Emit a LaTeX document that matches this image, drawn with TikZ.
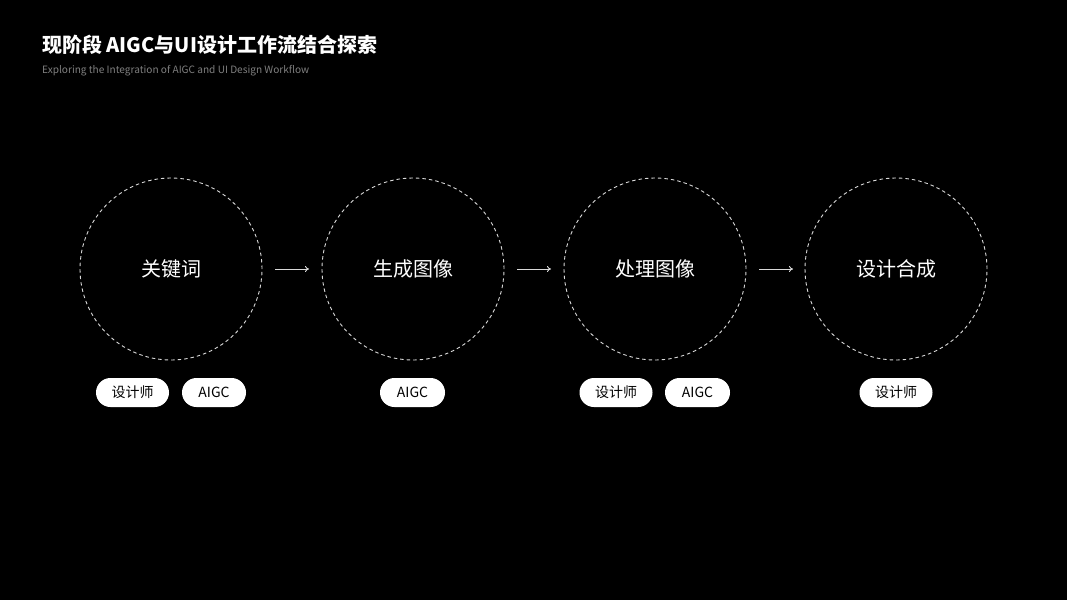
\documentclass[tikz,border=0pt]{standalone}
\usepackage{fontspec}
\setmainfont{Noto Sans CJK SC}
\usetikzlibrary{arrows.meta}
\begin{document}
\begin{tikzpicture}[x=1pt,y=-1pt,
  stage/.style={circle,draw=white!85!black,dash pattern=on 3.5pt off 3pt,line width=0.9pt,minimum size=182pt,inner sep=0pt,text=white,font=\fontsize{20}{24}\selectfont},
  pill/.style={rounded corners=14.5pt,fill=white,text=black,minimum height=29pt,inner sep=0pt,font=\fontsize{14}{16}\selectfont},
  flow/.style={draw=white!85!black,line width=0.9pt,-{To[length=4pt,width=6pt]}}]
\useasboundingbox[fill=black] (0,0) rectangle (1067,600);
\node[anchor=west,inner sep=0pt,text=white,font=\bfseries\fontsize{20}{24}\selectfont] (title) at (42,45) {现阶段 AIGC与UI设计工作流结合探索};
\node[anchor=west,inner sep=0pt,text=white!50!black,font=\fontsize{10.1}{12}\selectfont] (sub) at (42,71) {Exploring the Integration of AIGC and UI Design Workflow};
\node[stage] (s1) at (171,269) {关键词};
\node[stage] (s2) at (413,269) {生成图像};
\node[stage] (s3) at (655,269) {处理图像};
\node[stage] (s4) at (896,269) {设计合成};
\coordinate (a1s) at (275,269); \coordinate (a1e) at (309,269);
\coordinate (a2s) at (517,269); \coordinate (a2e) at (551,269);
\coordinate (a3s) at (759,269); \coordinate (a3e) at (793,269);
\draw[flow] (a1s) -- (a1e);
\draw[flow] (a2s) -- (a2e);
\draw[flow] (a3s) -- (a3e);
\node[pill,minimum width=73pt] (p1a) at (132.5,392.5) {设计师};
\node[pill,minimum width=64pt] (p1b) at (214,392.5) {AIGC};
\node[pill,minimum width=65pt] (p2a) at (412.5,392.5) {AIGC};
\node[pill,minimum width=73pt] (p3a) at (616,392.5) {设计师};
\node[pill,minimum width=65pt] (p3b) at (697.5,392.5) {AIGC};
\node[pill,minimum width=73pt] (p4a) at (896,392.5) {设计师};
\end{tikzpicture}
\end{document}
